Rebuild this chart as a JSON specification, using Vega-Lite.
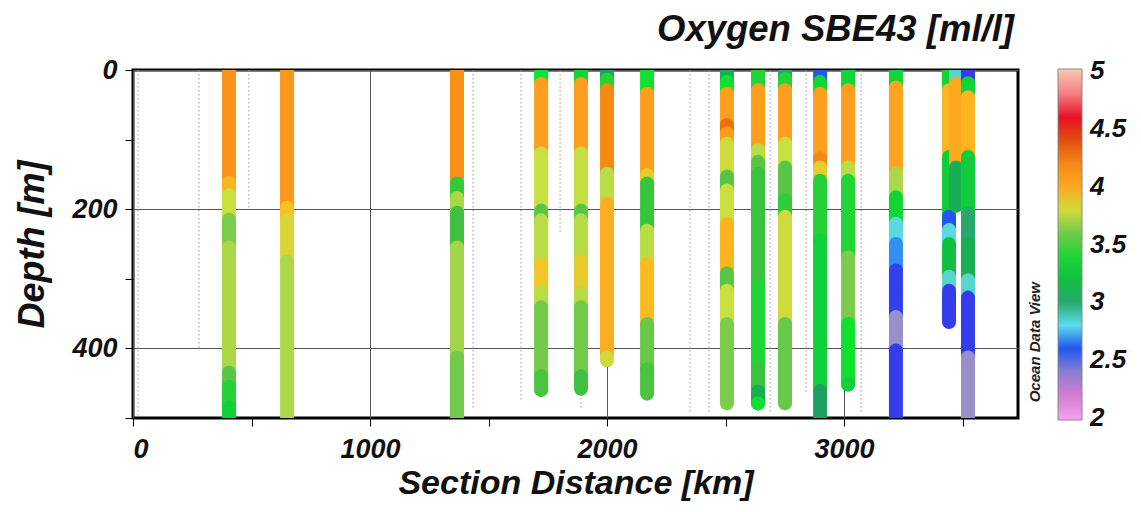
{
  "$schema": "https://vega.github.io/schema/vega-lite/v6.json",
  "autosize": "none",
  "width": 885,
  "height": 348,
  "padding": {"left": 133, "top": 70, "right": 123, "bottom": 94},
  "background": "white",
  "title": {"text": "Oxygen SBE43 [ml/l]", "anchor": "end", "frame": "group", "fontSize": 36.5, "font": "Liberation Sans", "fontStyle": "italic", "fontWeight": "bold", "color": "#111", "offset": 8, "dx": -4},
  "config": {
    "view": {"stroke": "#000", "strokeWidth": 3},
    "axis": {"labelFont": "Liberation Sans", "labelFontSize": 27, "labelFontStyle": "italic", "labelFontWeight": "bold", "labelColor": "#111", "titleFont": "Liberation Sans", "titleFontStyle": "italic", "titleFontWeight": "bold", "titleColor": "#111", "domain": false, "tickColor": "#000", "tickSize": 8, "tickWidth": 1, "zindex": 1}
  },
  "datasets": {
    "stations": [
      {"km": 21, "z0": 0, "z1": 500}, {"km": 278, "z0": 0, "z1": 403}, {"km": 489, "z0": 0, "z1": 201},
      {"km": 1435, "z0": 0, "z1": 486}, {"km": 1637, "z0": 0, "z1": 477}, {"km": 1802, "z0": 0, "z1": 233},
      {"km": 1890, "z0": 0, "z1": 486}, {"km": 2350, "z0": 0, "z1": 494}, {"km": 2430, "z0": 0, "z1": 494},
      {"km": 2688, "z0": 0, "z1": 494}, {"km": 2840, "z0": 0, "z1": 465}, {"km": 3072, "z0": 0, "z1": 494}
    ],
    "oxy": [
      {"km": 405, "z0": 0, "z1": 162, "o2": 4.12}, {"km": 405, "z0": 162, "z1": 180, "o2": 3.95}, {"km": 405, "z0": 180, "z1": 215, "o2": 3.78}, {"km": 405, "z0": 215, "z1": 255, "o2": 3.62}, {"km": 405, "z0": 255, "z1": 435, "o2": 3.72}, {"km": 405, "z0": 435, "z1": 455, "o2": 3.55}, {"km": 405, "z0": 455, "z1": 485, "o2": 3.42}, {"km": 405, "z0": 485, "z1": 500, "o2": 3.28},
      {"km": 650, "z0": 0, "z1": 198, "o2": 4.1}, {"km": 650, "z0": 198, "z1": 215, "o2": 3.9}, {"km": 650, "z0": 215, "z1": 275, "o2": 3.82}, {"km": 650, "z0": 275, "z1": 500, "o2": 3.72},
      {"km": 1367, "z0": 0, "z1": 163, "o2": 4.14}, {"km": 1367, "z0": 163, "z1": 184, "o2": 3.45}, {"km": 1367, "z0": 184, "z1": 205, "o2": 3.72}, {"km": 1367, "z0": 205, "z1": 255, "o2": 3.5}, {"km": 1367, "z0": 255, "z1": 413, "o2": 3.7}, {"km": 1367, "z0": 413, "z1": 500, "o2": 3.6},
      {"km": 1722, "z0": 0, "z1": 20, "o2": 3.35}, {"km": 1722, "z0": 20, "z1": 120, "o2": 4.05}, {"km": 1722, "z0": 120, "z1": 202, "o2": 3.78}, {"km": 1722, "z0": 202, "z1": 216, "o2": 3.55}, {"km": 1722, "z0": 216, "z1": 279, "o2": 3.75}, {"km": 1722, "z0": 279, "z1": 319, "o2": 3.88}, {"km": 1722, "z0": 319, "z1": 341, "o2": 3.75}, {"km": 1722, "z0": 341, "z1": 440, "o2": 3.6}, {"km": 1722, "z0": 440, "z1": 460, "o2": 3.52},
      {"km": 1890, "z0": 0, "z1": 20, "o2": 3.3}, {"km": 1890, "z0": 20, "z1": 120, "o2": 4.05}, {"km": 1890, "z0": 120, "z1": 202, "o2": 3.77}, {"km": 1890, "z0": 202, "z1": 216, "o2": 3.55}, {"km": 1890, "z0": 216, "z1": 275, "o2": 3.74}, {"km": 1890, "z0": 275, "z1": 320, "o2": 3.86}, {"km": 1890, "z0": 320, "z1": 341, "o2": 3.74}, {"km": 1890, "z0": 341, "z1": 440, "o2": 3.6}, {"km": 1890, "z0": 440, "z1": 458, "o2": 3.5},
      {"km": 2000, "z0": 0, "z1": 14, "o2": 3.05}, {"km": 2000, "z0": 14, "z1": 29, "o2": 3.4}, {"km": 2000, "z0": 29, "z1": 149, "o2": 4.18}, {"km": 2000, "z0": 149, "z1": 192, "o2": 3.75}, {"km": 2000, "z0": 192, "z1": 413, "o2": 3.98}, {"km": 2000, "z0": 413, "z1": 417, "o2": 3.8},
      {"km": 2169, "z0": 0, "z1": 34, "o2": 3.35}, {"km": 2169, "z0": 34, "z1": 151, "o2": 4.05}, {"km": 2169, "z0": 151, "z1": 163, "o2": 3.85}, {"km": 2169, "z0": 163, "z1": 231, "o2": 3.47}, {"km": 2169, "z0": 231, "z1": 279, "o2": 3.75}, {"km": 2169, "z0": 279, "z1": 365, "o2": 3.92}, {"km": 2169, "z0": 365, "z1": 430, "o2": 3.58}, {"km": 2169, "z0": 430, "z1": 465, "o2": 3.52},
      {"km": 2506, "z0": 0, "z1": 17, "o2": 3.1}, {"km": 2506, "z0": 17, "z1": 34, "o2": 3.35}, {"km": 2506, "z0": 34, "z1": 79, "o2": 4.05}, {"km": 2506, "z0": 79, "z1": 91, "o2": 4.3}, {"km": 2506, "z0": 91, "z1": 106, "o2": 4.05}, {"km": 2506, "z0": 106, "z1": 153, "o2": 3.8}, {"km": 2506, "z0": 153, "z1": 173, "o2": 3.55}, {"km": 2506, "z0": 173, "z1": 221, "o2": 3.78}, {"km": 2506, "z0": 221, "z1": 292, "o2": 3.95}, {"km": 2506, "z0": 292, "z1": 317, "o2": 3.55}, {"km": 2506, "z0": 317, "z1": 365, "o2": 3.78}, {"km": 2506, "z0": 365, "z1": 479, "o2": 3.62},
      {"km": 2637, "z0": 0, "z1": 29, "o2": 3.4}, {"km": 2637, "z0": 29, "z1": 115, "o2": 4.05}, {"km": 2637, "z0": 115, "z1": 132, "o2": 3.75}, {"km": 2637, "z0": 132, "z1": 149, "o2": 3.55}, {"km": 2637, "z0": 149, "z1": 310, "o2": 3.48}, {"km": 2637, "z0": 310, "z1": 430, "o2": 3.4}, {"km": 2637, "z0": 430, "z1": 462, "o2": 3.48}, {"km": 2637, "z0": 462, "z1": 479, "o2": 3.1}, {"km": 2637, "z0": 479, "z1": 479, "o2": 3.35},
      {"km": 2751, "z0": 0, "z1": 13, "o2": 3.0}, {"km": 2751, "z0": 13, "z1": 29, "o2": 3.4}, {"km": 2751, "z0": 29, "z1": 106, "o2": 4.05}, {"km": 2751, "z0": 106, "z1": 140, "o2": 3.78}, {"km": 2751, "z0": 140, "z1": 187, "o2": 3.55}, {"km": 2751, "z0": 187, "z1": 211, "o2": 3.45}, {"km": 2751, "z0": 211, "z1": 365, "o2": 3.8}, {"km": 2751, "z0": 365, "z1": 479, "o2": 3.58},
      {"km": 2899, "z0": 0, "z1": 17, "o2": 2.6}, {"km": 2899, "z0": 17, "z1": 34, "o2": 3.3}, {"km": 2899, "z0": 34, "z1": 127, "o2": 4.05}, {"km": 2899, "z0": 127, "z1": 140, "o2": 4.2}, {"km": 2899, "z0": 140, "z1": 159, "o2": 3.85}, {"km": 2899, "z0": 159, "z1": 245, "o2": 3.42}, {"km": 2899, "z0": 245, "z1": 461, "o2": 3.28}, {"km": 2899, "z0": 461, "z1": 500, "o2": 3.02},
      {"km": 3017, "z0": 0, "z1": 29, "o2": 3.3}, {"km": 3017, "z0": 29, "z1": 140, "o2": 4.05}, {"km": 3017, "z0": 140, "z1": 159, "o2": 3.75}, {"km": 3017, "z0": 159, "z1": 269, "o2": 3.4}, {"km": 3017, "z0": 269, "z1": 365, "o2": 3.62}, {"km": 3017, "z0": 365, "z1": 452, "o2": 3.35}, {"km": 3017, "z0": 452, "z1": 452, "o2": 3.28},
      {"km": 3219, "z0": 0, "z1": 25, "o2": 3.3}, {"km": 3219, "z0": 25, "z1": 149, "o2": 4.02}, {"km": 3219, "z0": 149, "z1": 183, "o2": 3.72}, {"km": 3219, "z0": 183, "z1": 221, "o2": 3.3}, {"km": 3219, "z0": 221, "z1": 250, "o2": 2.82}, {"km": 3219, "z0": 250, "z1": 288, "o2": 2.68}, {"km": 3219, "z0": 288, "z1": 355, "o2": 2.52}, {"km": 3219, "z0": 355, "z1": 403, "o2": 2.38}, {"km": 3219, "z0": 403, "z1": 500, "o2": 2.5},
      {"km": 3443, "z0": 0, "z1": 29, "o2": 3.3}, {"km": 3443, "z0": 29, "z1": 125, "o2": 3.95}, {"km": 3443, "z0": 125, "z1": 211, "o2": 3.25}, {"km": 3443, "z0": 211, "z1": 230, "o2": 2.6}, {"km": 3443, "z0": 230, "z1": 250, "o2": 2.82}, {"km": 3443, "z0": 250, "z1": 297, "o2": 3.2}, {"km": 3443, "z0": 297, "z1": 317, "o2": 2.85}, {"km": 3443, "z0": 317, "z1": 362, "o2": 2.5},
      {"km": 3473, "z0": 0, "z1": 20, "o2": 2.85}, {"km": 3473, "z0": 20, "z1": 140, "o2": 4.0}, {"km": 3473, "z0": 140, "z1": 195, "o2": 3.1},
      {"km": 3523, "z0": 0, "z1": 19, "o2": 2.5}, {"km": 3523, "z0": 19, "z1": 39, "o2": 3.3}, {"km": 3523, "z0": 39, "z1": 125, "o2": 3.95}, {"km": 3523, "z0": 125, "z1": 207, "o2": 3.25}, {"km": 3523, "z0": 207, "z1": 250, "o2": 3.0}, {"km": 3523, "z0": 250, "z1": 302, "o2": 3.1}, {"km": 3523, "z0": 302, "z1": 327, "o2": 2.85}, {"km": 3523, "z0": 327, "z1": 413, "o2": 2.5}, {"km": 3523, "z0": 413, "z1": 500, "o2": 2.38}
    ]
  },
  "layer": [
    {
      "data": {"name": "stations"},
      "mark": {"type": "rule", "color": "#999", "strokeWidth": 1, "strokeDash": [1.5, 2.5]},
      "encoding": {
        "x": {"field": "km", "type": "quantitative", "scale": {"domain": [0, 3734], "nice": false, "zero": false},
          "axis": {"title": "Section Distance [km]", "titleFontSize": 34, "values": [0, 500, 1000, 1500, 2000, 2500, 3000, 3500], "format": "d", "labelExpr": "datum.value % 1000 === 0 ? datum.label : ''", "labelPadding": 10, "titlePadding": 4, "grid": true, "gridWidth": 1, "gridColor": {"condition": {"test": "datum.value % 1000 === 0", "value": "#555"}, "value": "transparent"}}},
        "y": {"field": "z0", "type": "quantitative", "scale": {"domain": [0, 500], "reverse": true, "nice": false},
          "axis": {"title": "Depth [m]", "titleFontSize": 36, "values": [0, 50, 100, 150, 200, 250, 300, 350, 400, 450, 500], "format": "d", "labelExpr": "datum.value % 200 === 0 ? datum.label : ''", "labelPadding": 8, "titlePadding": 20, "grid": true, "gridWidth": 1, "gridColor": {"condition": {"test": "datum.value % 200 === 0", "value": "#555"}, "value": "transparent"}}},
        "y2": {"field": "z1"}
      }
    },
    {
      "data": {"name": "oxy"},
      "mark": {"type": "rule", "strokeWidth": 14, "strokeCap": "round", "clip": true},
      "encoding": {
        "x": {"field": "km", "type": "quantitative"},
        "y": {"field": "z0", "type": "quantitative"},
        "y2": {"field": "z1"},
        "color": {"field": "o2", "type": "quantitative",
          "scale": {"domain": [1.98, 2.1, 2.25, 2.37, 2.48, 2.58, 2.68, 2.8, 2.9, 3.02, 3.2, 3.35, 3.5, 3.66, 3.78, 3.9, 4.04, 4.25, 4.4, 4.5, 4.63, 4.75, 4.9, 5.02],
            "range": ["#f2a8f2", "#e070e0", "#cc80c8", "#a498c8", "#3a3ae8", "#2048f0", "#3090f0", "#5cdcec", "#50d0b0", "#20a060", "#10c040", "#10e030", "#40c040", "#90d050", "#c8e040", "#f8c020", "#ffa020", "#f08010", "#e05010", "#e81010", "#e8102a", "#f06070", "#f8b0a0", "#f8c8b0"], "interpolate": "rgb"},
          "legend": {"orient": "none", "legendX": 925, "legendY": -1, "direction": "vertical", "gradientLength": 351, "gradientThickness": 24, "title": null, "values": [2, 2.5, 3, 3.5, 4, 4.5, 5], "format": "~g", "labelFont": "Liberation Sans", "labelFontSize": 26, "labelFontStyle": "italic", "labelFontWeight": "bold", "labelColor": "#111", "labelOffset": 8, "labelOverlap": false, "gradientStrokeColor": "#888", "gradientStrokeWidth": 1}}
      }
    },
    {
      "data": {"values": [{"label": "Ocean Data View"}]},
      "mark": {"type": "text", "angle": 270, "font": "Liberation Sans", "fontSize": 15, "fontStyle": "italic", "fontWeight": "bold", "color": "#222", "align": "center", "baseline": "middle", "clip": false},
      "encoding": {
        "x": {"datum": 3806, "type": "quantitative"},
        "y": {"datum": 391, "type": "quantitative"},
        "text": {"field": "label"}
      }
    }
  ]
}
